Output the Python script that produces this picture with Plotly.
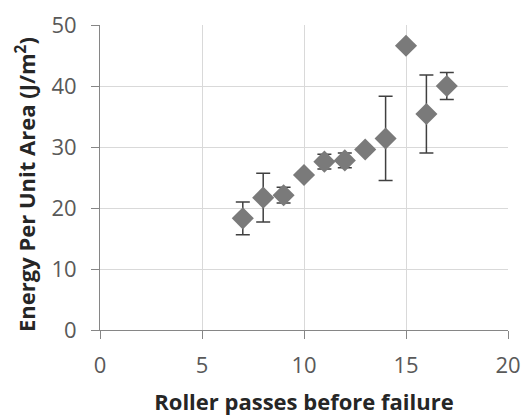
import plotly.graph_objects as go

passes = [7, 8, 9, 10, 11, 12, 13, 14, 15, 16, 17]
energy = [18.3, 21.7, 22.1, 25.4, 27.6, 27.8, 29.6, 31.4, 46.6, 35.4, 40.0]
energy_err = [2.7, 4.0, 1.3, 0.0, 1.2, 1.2, 0.0, 6.9, 0.0, 6.4, 2.2]

x_ticks = [0, 5, 10, 15, 20]
y_ticks = [0, 10, 20, 30, 40, 50]
x_title = "<b>Roller passes before failure</b>"
y_title = "<b>Energy Per Unit Area (J/m<sup>2</sup>)</b>"

fig = go.Figure()
fig.add_trace(go.Scatter(
    x=passes, y=energy, mode="markers",
    marker=dict(symbol="diamond", size=17, color="#7a7a7a", line=dict(width=0)),
    error_y=dict(type="data", array=energy_err, visible=True,
                 color="#404040", thickness=1.5, width=7),
    showlegend=False,
))

font_family = "'Open Sans', sans-serif"
L, R, T, B = 100, 17, 25, 86
W, H = 525, 416
fig.update_layout(
    width=W, height=H,
    margin=dict(l=L, r=R, t=T, b=B),
    paper_bgcolor="white", plot_bgcolor="white",
    font=dict(family=font_family),
)
fig.update_xaxes(
    range=[0, 20], tickvals=x_ticks,
    automargin=False,
    showgrid=True, gridcolor="#d9d9d9", gridwidth=1,
    showline=True, linecolor="#868686", linewidth=1,
    ticks="outside", ticklen=8, tickcolor="#868686",
    ticklabelstandoff=8,
    tickfont=dict(size=22, color="#595959", family=font_family),
    zeroline=False,
    title=dict(text=x_title,
               font=dict(size=22, color="#262626", family=font_family), standoff=18),
)
fig.update_yaxes(
    range=[0, 50], tickvals=y_ticks,
    automargin=False,
    showgrid=True, gridcolor="#d9d9d9", gridwidth=1,
    showline=True, linecolor="#868686", linewidth=1,
    ticks="outside", ticklen=8, tickcolor="#868686",
    ticklabelstandoff=10,
    tickfont=dict(size=22, color="#595959", family=font_family),
    zeroline=False,
)
plot_h = H - T - B
plot_w = W - L - R
fig.add_annotation(
    text=y_title, textangle=-90, showarrow=False,
    xref="paper", yref="paper",
    x=(25 - L) / plot_w, y=((H - B) - 185) / plot_h,
    xanchor="center", yanchor="middle",
    font=dict(size=22, color="#262626", family=font_family),
)
fig.write_html("out.html", config={"displayModeBar": False},
               post_script="document.body.style.margin='0';")
